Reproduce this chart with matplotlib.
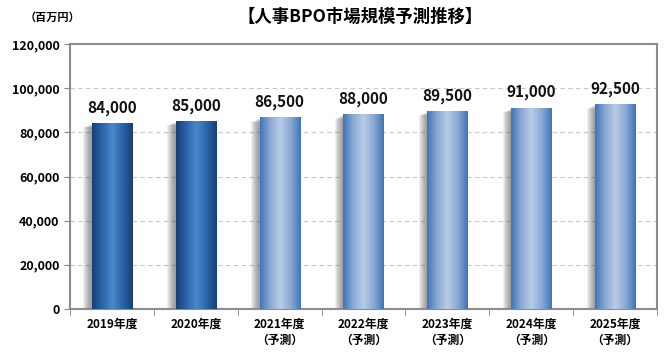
import numpy as np
import matplotlib.pyplot as plt
from matplotlib.colors import LinearSegmentedColormap
from matplotlib.patches import Rectangle

plt.rcParams['font.family'] = ['Noto Sans CJK JP', 'DejaVu Sans']

years = ['2019年度', '2020年度', '2021年度\n（予測）', '2022年度\n（予測）',
         '2023年度\n（予測）', '2024年度\n（予測）', '2025年度\n（予測）']
values = [84000, 85000, 86500, 88000, 89500, 91000, 92500]
is_forecast = [False, False, True, True, True, True, True]

actual_cmap = LinearSegmentedColormap.from_list(
    'actual', ['#163f74', '#2b64a8', '#4b88c9', '#2b64a8', '#163f74'])
forecast_cmap = LinearSegmentedColormap.from_list(
    'forecast', ['#3f74b8', '#8aa9d4', '#b9cce6', '#8aa9d4', '#3f74b8'])

fig = plt.figure(figsize=(6.7, 3.56), dpi=100)
ax = fig.add_axes([70 / 670, 47 / 356, 587 / 670, 265 / 356])

x = np.arange(len(values))
w = 0.48
grad = np.linspace(0, 1, 256).reshape(1, -1)

for xi, v, fc in zip(x, values, is_forecast):
    # shadow on the left side
    for k in range(8):
        ax.add_patch(Rectangle((xi - w / 2 - 0.1 + k * 0.012, 0), w, v - 1800 + k * 200,
                               color='#505050', alpha=0.09, lw=0, zorder=2))
    cmap = forecast_cmap if fc else actual_cmap
    ax.imshow(grad, cmap=cmap, aspect='auto', extent=(xi - w / 2, xi + w / 2, 0, v),
              zorder=3, interpolation='bilinear')
    ax.text(xi, v + 3500, f'{v:,}', ha='center', va='bottom', fontsize=11,
            fontweight='bold', color='#111111', zorder=4)

ax.set_xlim(-0.5, len(values) - 0.5)
ax.set_ylim(0, 120000)
ax.set_yticks(range(0, 120001, 20000))
ax.set_yticklabels([f'{t:,}' for t in range(0, 120001, 20000)])
ax.set_xticks(x)
ax.set_xticklabels(years, fontsize=8.5, fontweight='bold', linespacing=1.3)
ax.set_xticks(np.arange(-0.5, len(values), 1), minor=True)
ax.tick_params(axis='x', which='major', length=0, pad=6)
ax.tick_params(axis='x', which='minor', length=5, color='#888888')
ax.tick_params(axis='y', length=4, color='#888888', labelsize=9)
for lab in ax.get_yticklabels():
    lab.set_fontweight('bold')

ax.grid(axis='y', linestyle=(0, (4, 3)), color='#c8c8c8', lw=0.8, zorder=1)
for s in ax.spines.values():
    s.set_color('#8c8c8c')
    s.set_linewidth(1.5)

fig.text(52 / 670, 1 - 17 / 356, '（百万円）', ha='center', va='center', fontsize=8,
         fontweight='bold')
fig.text(360 / 670, 1 - 17 / 356, '【人事BPO市場規模予測推移】', ha='center', va='center',
         fontsize=12.5, fontweight='bold')

fig.savefig('out.png', dpi=100)
